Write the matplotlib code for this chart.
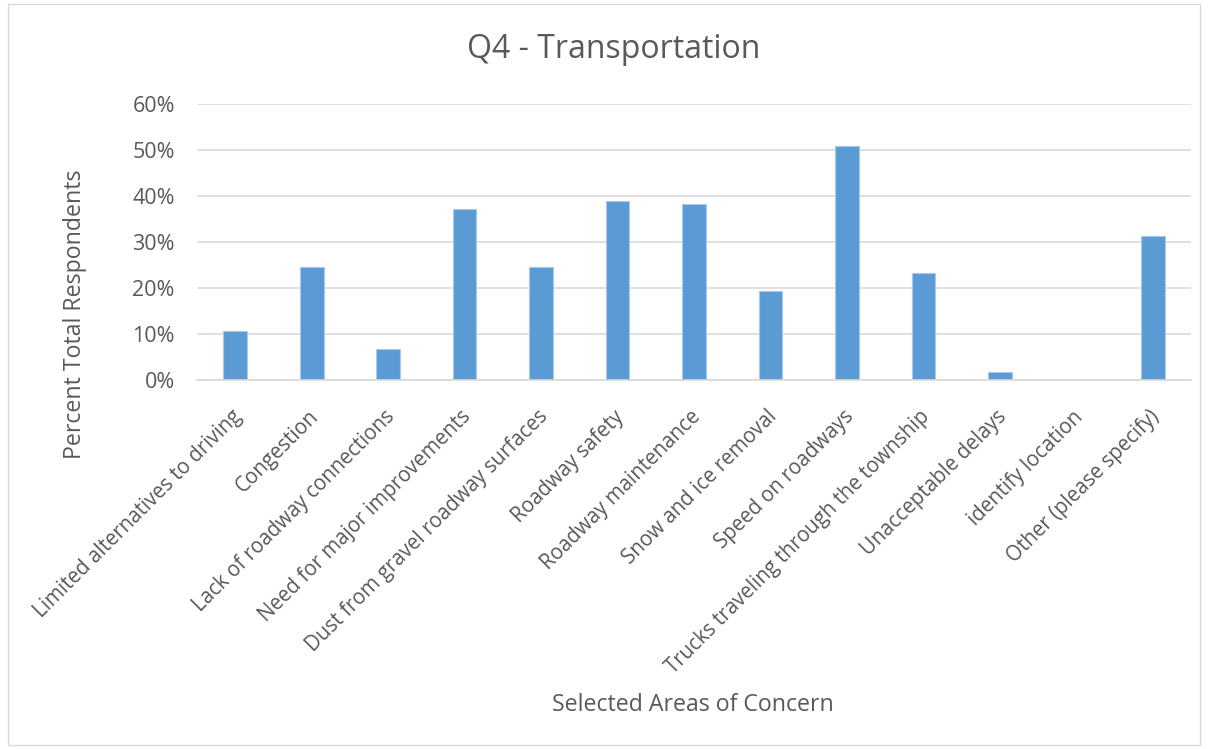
import matplotlib.pyplot as plt
import matplotlib.transforms as mtransforms
from matplotlib.patches import Rectangle
from matplotlib.ticker import PercentFormatter

categories = [
    "Limited alternatives to driving",
    "Congestion",
    "Lack of roadway connections",
    "Need for major improvements",
    "Dust from gravel roadway surfaces",
    "Roadway safety",
    "Roadway maintenance",
    "Snow and ice removal",
    "Speed on roadways",
    "Trucks traveling through the township",
    "Unacceptable delays",
    "identify location",
    "Other (please specify)",
]
percent = [10.65, 24.5, 6.8, 37.1, 24.5, 38.9, 38.3, 19.3, 50.9, 23.2, 1.8, 0.0, 31.4]
yticks = [0, 10, 20, 30, 40, 50, 60]

text_color = "#595959"
grid_color = "#d9d9d9"
bar_color = "#5b9bd5"

plt.rcParams["font.family"] = ["Open Sans", "DejaVu Sans"]

fig = plt.figure(figsize=(12.1, 7.49), dpi=100)
ax = fig.add_axes([197 / 1210, 1 - 380 / 749, (1191 - 197) / 1210, (380 - 104) / 749])

# chart border
fig.patches.append(
    Rectangle((8 / 1210, 4 / 749), 1192 / 1210, 741 / 749, transform=fig.transFigure,
              fill=False, edgecolor=grid_color, linewidth=1)
)

x = range(len(categories))
ax.bar(x, percent, width=0.31, color=bar_color, edgecolor="#a9c8ea", linewidth=0.8, zorder=2)

ax.set_xlim(-0.5, len(categories) - 0.5)
ax.set_ylim(0, 60)
ax.set_yticks(yticks)
ax.yaxis.set_major_formatter(PercentFormatter(decimals=0))
ax.grid(axis="y", color=grid_color, linewidth=1.2, zorder=0)

for side in ["top", "right", "left"]:
    ax.spines[side].set_visible(False)
ax.spines["bottom"].set_color(grid_color)
ax.spines["bottom"].set_linewidth(1.2)

ax.set_xticks(list(x))
ax.set_xticklabels(categories, rotation=45, ha="right", va="top", rotation_mode="anchor",
                   fontsize=14.8, color=text_color)
ax.tick_params(axis="x", length=0, pad=19)
ax.tick_params(axis="y", length=0, pad=16, labelsize=15.5, labelcolor=text_color)

# nudge the rotated labels so their ends sit next to the bars
offset = mtransforms.ScaledTranslation(-4 / 100, 0, fig.dpi_scale_trans)
for label in ax.get_xticklabels():
    label.set_transform(label.get_transform() + offset)

fig.text(614 / 1210, 1 - 50 / 749, "Q4 - Transportation", ha="center", va="center",
         fontsize=23, color=text_color)
fig.text(75 / 1210, 1 - 314 / 749, "Percent Total Respondents", rotation=90,
         ha="center", va="center", fontsize=16.7, color=text_color)
fig.text(693 / 1210, 1 - 705 / 749, "Selected Areas of Concern", ha="center",
         va="center", fontsize=16.7, color=text_color)

fig.savefig("out.png", dpi=100)
